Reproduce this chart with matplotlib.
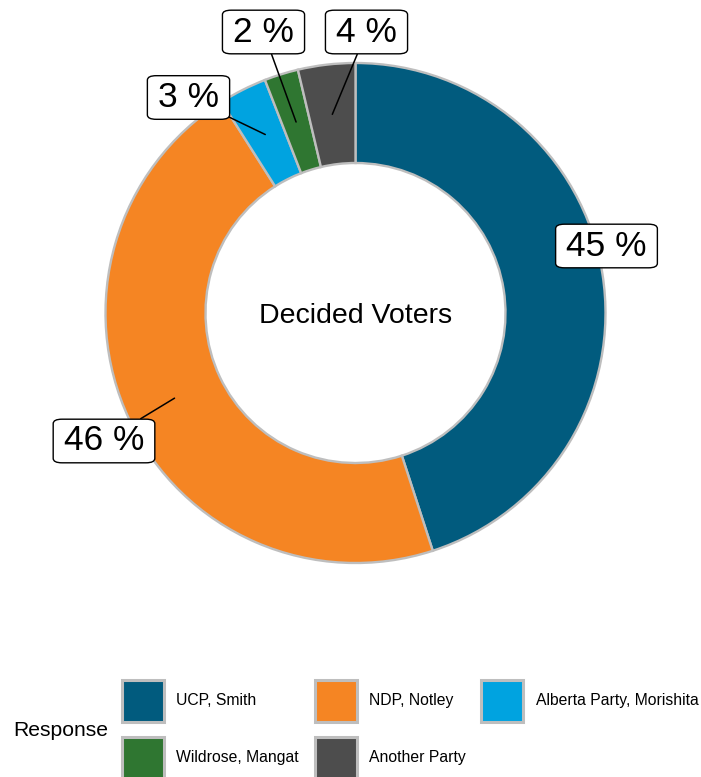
import numpy as np
import matplotlib.pyplot as plt
from matplotlib.patches import Rectangle

plt.rcParams['font.family'] = ['Liberation Sans', 'DejaVu Sans']

parties = ['UCP, Smith', 'NDP, Notley', 'Alberta Party, Morishita',
           'Wildrose, Mangat', 'Another Party']
shares = [45.0, 46.0, 3.1, 2.2, 3.7]
colors = ['#015B7E', '#F58523', '#00A3E0', '#2F7631', '#4D4D4D']
title = 'Decided Voters'

# label box centres in pixels (from top-left), like a repel layout
label_pos = [(606.5, 246), (104, 441), (188.5, 97.5), (263.5, 32), (366.5, 32)]

W, H = 701, 777
fig = plt.figure(figsize=(W / 100, H / 100), dpi=100)
ax = fig.add_axes([0, 0, 1, 1])
ax.set_xlim(0, W)
ax.set_ylim(0, H)
ax.set_aspect('equal')
ax.axis('off')

cx, cy = 355.5, H - 313
r_out, r_in = 250, 150
wedges, _ = ax.pie(shares, colors=colors, startangle=90, counterclock=False,
                   center=(cx, cy), radius=r_out,
                   wedgeprops=dict(width=r_out - r_in, edgecolor='#BEBEBE',
                                   linewidth=1.7))
ax.set_xlim(0, W)
ax.set_ylim(0, H)

ax.text(cx, cy - 3, title, ha='center', va='center', fontsize=20.5)

r_mid = (r_out + r_in) / 2
for w, s, (lx, ly) in zip(wedges, shares, label_pos):
    a = np.deg2rad((w.theta1 + w.theta2) / 2)
    px, py = cx + r_mid * np.cos(a), cy + r_mid * np.sin(a)
    lyy = H - ly
    arrow = None
    if np.hypot(lx - px, lyy - py) > 70:
        arrow = dict(arrowstyle='-', color='black', lw=1.1,
                     shrinkA=0, shrinkB=0)
    ax.annotate(f'{s:.0f} %', xy=(px, py), xytext=(lx, lyy),
                ha='center', va='center', fontsize=25.5,
                bbox=dict(boxstyle='round,pad=0.3,rounding_size=0.25',
                          mutation_aspect=0.5,
                          fc='white', ec='black', lw=1),
                arrowprops=arrow)

# legend
ax.text(13, H - 731, 'Response', ha='left', va='center', fontsize=15.2)
col_x = [120.5, 313, 479.5]
row_y = [678, 735]
for i, (name, c) in enumerate(zip(parties, colors)):
    kx = col_x[i % 3]
    ky = row_y[i // 3]
    ax.add_patch(Rectangle((kx + 1.5, H - ky - 43.5), 42, 42, fc=c,
                           ec='#BEBEBE', lw=2.2))
    ax.text(kx + 56, H - ky - 22.5, name, ha='left', va='center', fontsize=11.3)

fig.savefig('out.png', dpi=100)
